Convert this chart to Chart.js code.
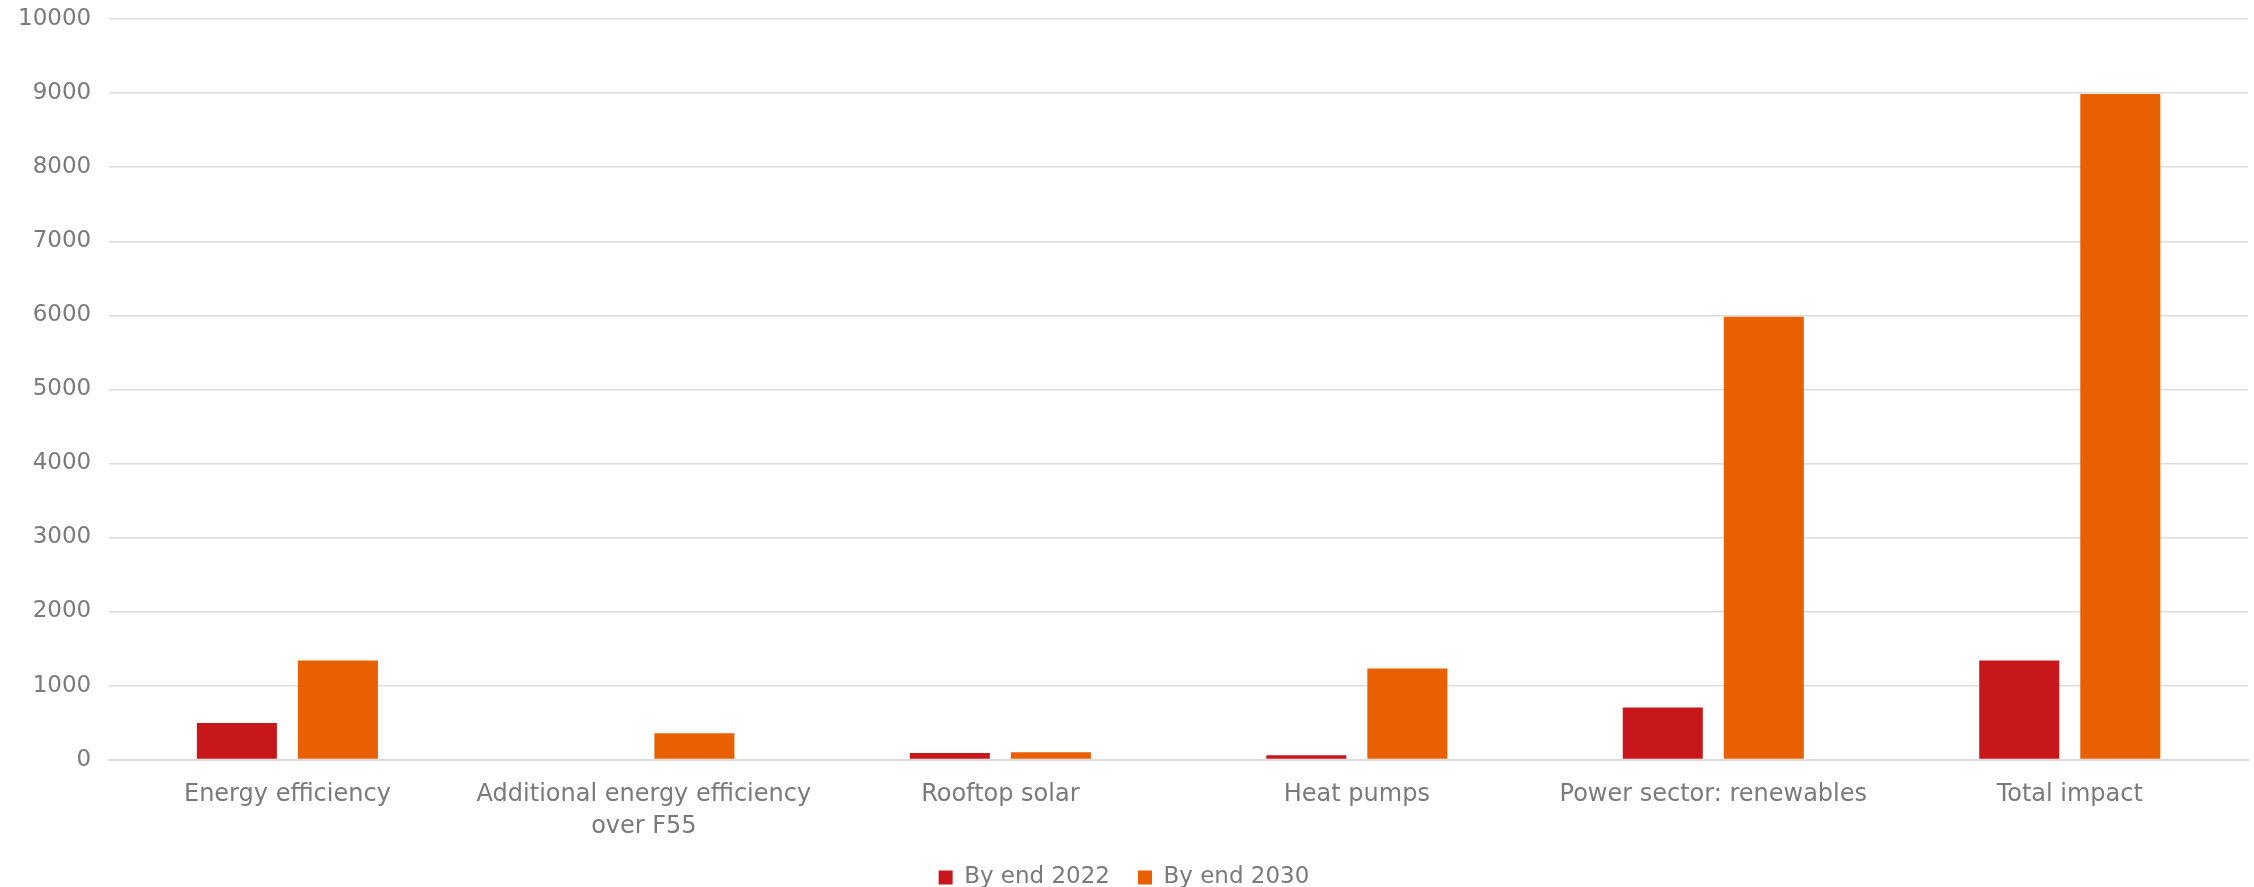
<!DOCTYPE html>
<html>
<head>
<meta charset="utf-8">
<script src="https://cdn.jsdelivr.net/npm/chart.js@4"></script>
<style>
  html, body { margin: 0; padding: 0; background: #fff; }
  #wrap { width: 2254px; height: 887px; }
</style>
</head>
<body>
<div id="wrap"><canvas id="chart"></canvas></div>
<script>
const CATEGORIES = ['Energy efficiency', ['Additional energy efficiency', 'over F55'], 'Rooftop solar', 'Heat pumps', 'Power sector: renewables', 'Total impact'];
const SERIES_NAMES = ['By end 2022', 'By end 2030'];
const BY_2022 = [495, 0, 90, 60, 705, 1340];
const BY_2030 = [1340, 355, 100, 1232, 5980, 8990];
const Y_TICKS = { min: 0, max: 10000, step: 1000 };

const COLORS = ['#c8171b', '#e86000'];
const TEXT = '#7a7a7a';
const GRID = '#dcdcdc';
const FONT = "'DejaVu Sans', sans-serif";

// wider gap between legend items without the extra vertical space
const legendTrim = {
  id: 'legendTrim',
  beforeInit(chart) {
    const fit = chart.legend.fit;
    chart.legend.fit = function () { fit.call(this); this.height -= 8; };
  }
};

new Chart(document.getElementById('chart'), {
  type: 'bar',
  data: {
    labels: CATEGORIES,
    datasets: [
      { label: SERIES_NAMES[0], data: BY_2022, backgroundColor: COLORS[0] },
      { label: SERIES_NAMES[1], data: BY_2030, backgroundColor: COLORS[1] }
    ]
  },
  options: {
    responsive: true,
    maintainAspectRatio: false,
    animation: false,
    categoryPercentage: 0.567,
    barPercentage: 0.792,
    layout: { padding: { top: 16, right: 6, left: 0, bottom: -4 } },
    scales: {
      x: {
        grid: { display: false },
        border: { color: GRID, width: 2 },
        ticks: { color: TEXT, font: { family: FONT, size: 24, lineHeight: 1.3 }, maxRotation: 0, autoSkip: false, padding: 12 },
        afterFit: s => { s.height -= 16; }
      },
      y: {
        min: Y_TICKS.min, max: Y_TICKS.max,
        grid: { color: GRID, lineWidth: 1.5, drawTicks: false },
        border: { display: false },
        ticks: { stepSize: Y_TICKS.step, color: TEXT, font: { family: FONT, size: 23, lineHeight: 0.1 }, padding: 18,
                 callback: v => String(v) }
      }
    },
    plugins: {
      legend: {
        position: 'bottom',
        labels: { color: TEXT, font: { family: FONT, size: 23 }, boxWidth: 14, boxHeight: 14, padding: 28 }
      },
      tooltip: { enabled: false }
    }
  },
  plugins: [legendTrim]
});
</script>
</body>
</html>
